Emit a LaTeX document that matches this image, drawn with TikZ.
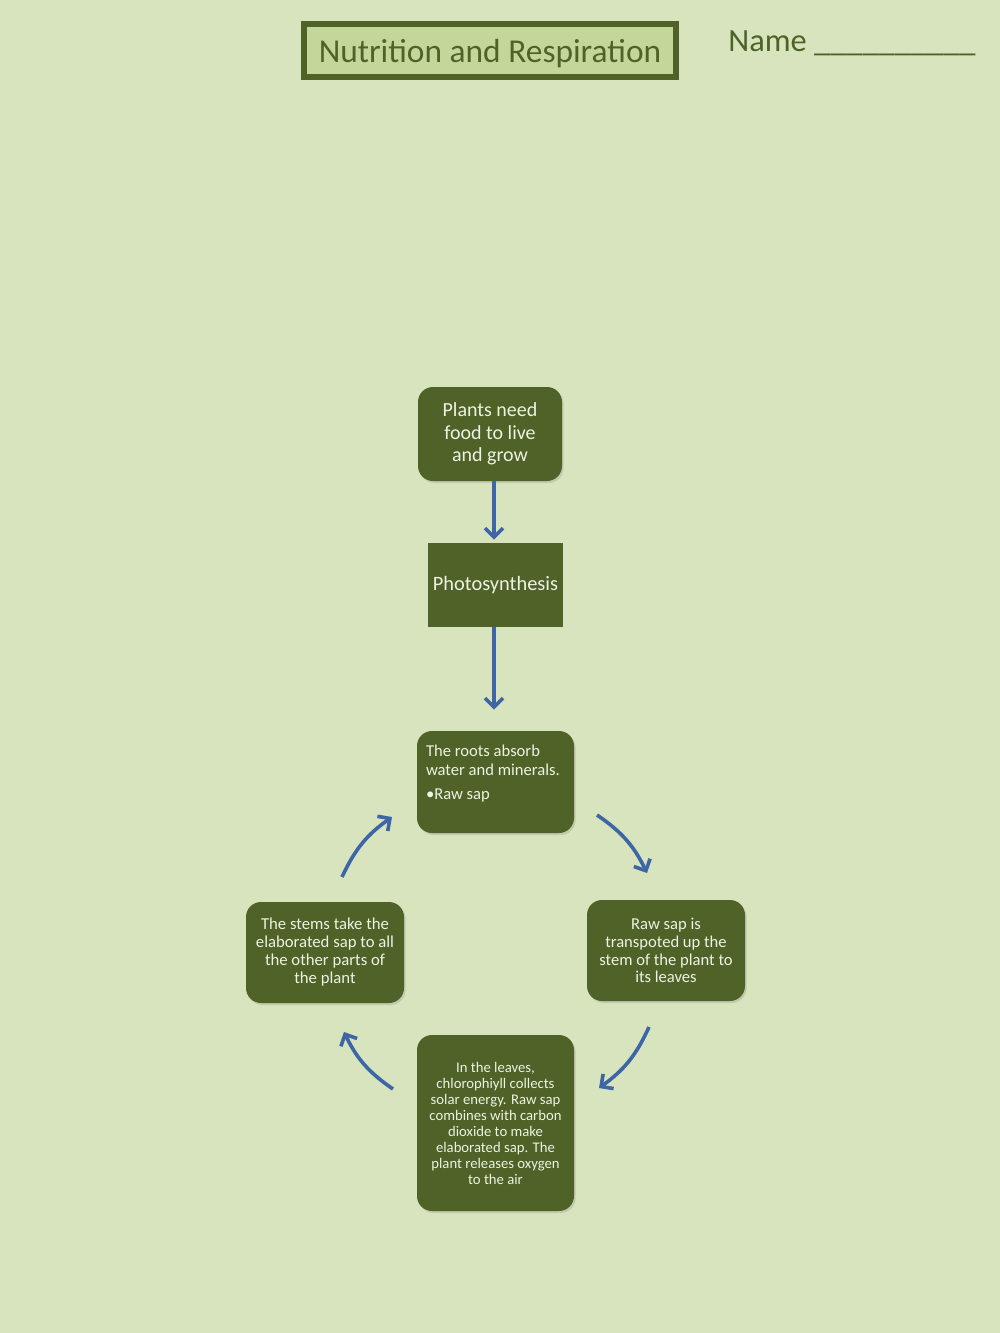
\documentclass[tikz,border=0pt]{standalone}
\usepackage{fontspec}
\setmainfont{Carlito}
\usepackage{tikz}
\usetikzlibrary{arrows.meta,positioning,shadows}

\definecolor{pagebg}{HTML}{D7E4BD}
\definecolor{olive}{HTML}{4F6228}
\definecolor{titlefill}{HTML}{C4D79B}
\definecolor{flowblue}{HTML}{3E66A6}
\definecolor{boxtext}{HTML}{EEF2E2}

\begin{document}
\begin{tikzpicture}[x=0.5pt,y=-0.5pt,
  box/.style={fill=olive,rounded corners=7.5pt,text=boxtext,align=center,inner sep=0pt,
    drop shadow={opacity=0.25,shadow xshift=0.8pt,shadow yshift=-1pt}},
  flow/.style={draw=flowblue,line width=1.8pt,-{Straight Barb[length=4.5pt,width=9pt]}},
  cyc/.style={flow,bend left=15}]
% Page
\fill[pagebg] (0,0) rectangle (1000,1333);
\useasboundingbox (0,0) rectangle (1000,1333);

% Title and name
\node[draw=olive,line width=3pt,fill=titlefill,text=olive,minimum width=186pt,minimum height=26.5pt,
  text depth=0pt,font=\fontsize{16.7}{19}\selectfont] (title) at (490,50.5) {Nutrition and Respiration};
\node[anchor=west,text=olive,font=\fontsize{16.2}{19}\selectfont,inner sep=0pt] (name) at (728,43) {Name \_\_\_\_\_\_\_\_\_\_};

% Top chain
\node[box,minimum width=72pt,minimum height=47pt,font=\fontsize{10}{11.25}\selectfont] (need) at (490,434)
  {Plants need\\food to live\\and grow};
\node[fill=olive,text=boxtext,minimum width=67.5pt,minimum height=42pt,inner sep=0pt,
  font=\fontsize{10.2}{12}\selectfont] (photo) at (495.5,585) {Photosynthesis};

% Cycle boxes
\node[box,minimum width=78.5pt,minimum height=51pt] (roots) at (495.5,782) {};
\node[anchor=north west,text=boxtext,align=left,inner sep=0pt,font=\fontsize{8.3}{9.5}\selectfont] (rootstext)
  at ([shift={(9,14)}]roots.north west) {The roots absorb\\water and minerals.\\[2.5pt]\textbullet Raw sap};
\node[box,minimum width=79pt,minimum height=50.5pt,font=\fontsize{8.3}{8.9}\selectfont] (transport) at (666,950.5)
  {Raw sap is\\transpoted up the\\stem of the plant to\\its leaves};
\node[box,minimum width=78.5pt,minimum height=88pt,font=\fontsize{7.35}{8}\selectfont] (leaves) at (495.5,1123)
  {In the leaves,\\chlorophiyll collects\\solar energy. Raw sap\\combines with carbon\\dioxide to make\\elaborated sap. The\\plant releases oxygen\\to the air};
\node[box,minimum width=79pt,minimum height=50.5pt,font=\fontsize{8.35}{9}\selectfont] (stems) at (325,952.5)
  {The stems take the\\elaborated sap to all\\the other parts of\\the plant};

% Straight arrows
\draw[flow,shorten >=1.5pt] (need.south -| 494,0) -- (photo.north -| 494,0);
\draw[flow,shorten >=10.5pt] (photo.south -| 494,0) -- (roots.north -| 494,0);

% Cycle arrows
\coordinate (a1) at (597,815); \coordinate (a2) at (647,873);
\coordinate (b1) at (649,1027); \coordinate (b2) at (599,1088);
\coordinate (c1) at (393,1089); \coordinate (c2) at (344,1032);
\coordinate (d1) at (342,877); \coordinate (d2) at (392,817);
\draw[cyc] (a1) to (a2);
\draw[cyc] (b1) to (b2);
\draw[cyc] (c1) to (c2);
\draw[cyc] (d1) to (d2);
\end{tikzpicture}
\end{document}
